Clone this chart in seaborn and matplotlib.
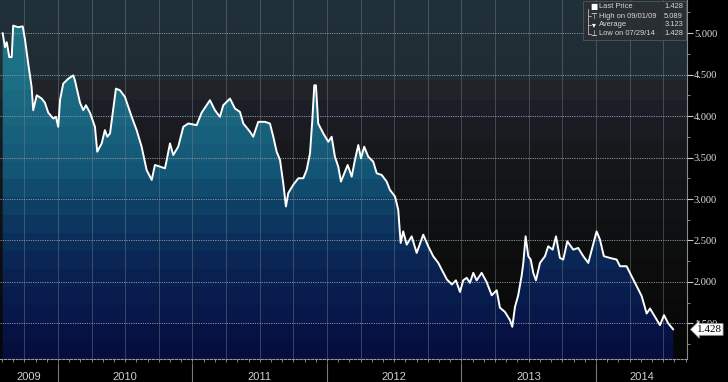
import numpy as np
import pandas as pd
import matplotlib
matplotlib.use("Agg")
import matplotlib.pyplot as plt
import seaborn as sns
from matplotlib.colors import LinearSegmentedColormap
from matplotlib.patches import PathPatch, Rectangle
from matplotlib.lines import Line2D
from matplotlib.ticker import MultipleLocator, FuncFormatter, NullFormatter

# datos (fecha en anos decimales, precio)
t = [2009.589, 2009.606, 2009.619, 2009.638, 2009.656, 2009.667, 2009.705, 2009.738,
     2009.755, 2009.779, 2009.804, 2009.816, 2009.842, 2009.879, 2009.903, 2009.928,
     2009.965, 2009.985, 2010.002, 2010.015, 2010.039, 2010.077, 2010.114, 2010.126,
     2010.164, 2010.188, 2010.208, 2010.238, 2010.275, 2010.292, 2010.325, 2010.349,
     2010.367, 2010.387, 2010.407, 2010.431, 2010.461, 2010.498, 2010.523, 2010.548,
     2010.585, 2010.622, 2010.659, 2010.697, 2010.721, 2010.758, 2010.796, 2010.833,
     2010.857, 2010.894, 2010.932, 2010.969, 2011.031, 2011.068, 2011.130, 2011.167,
     2011.204, 2011.229, 2011.279, 2011.316, 2011.353, 2011.378, 2011.428, 2011.452,
     2011.489, 2011.539, 2011.576, 2011.601, 2011.626, 2011.651, 2011.675, 2011.695,
     2011.712, 2011.749, 2011.787, 2011.824, 2011.849, 2011.874, 2011.891, 2011.906,
     2011.918, 2011.935, 2011.973, 2012.010, 2012.035, 2012.059, 2012.084, 2012.104,
     2012.129, 2012.154, 2012.184, 2012.208, 2012.233, 2012.253, 2012.277, 2012.307,
     2012.344, 2012.370, 2012.407, 2012.444, 2012.468, 2012.506, 2012.530, 2012.548,
     2012.567, 2012.593, 2012.630, 2012.667, 2012.716, 2012.753, 2012.790, 2012.828,
     2012.853, 2012.892, 2012.929, 2012.959, 2012.989, 2013.013, 2013.039, 2013.063,
     2013.088, 2013.113, 2013.150, 2013.187, 2013.225, 2013.262, 2013.286, 2013.323,
     2013.361, 2013.378, 2013.398, 2013.422, 2013.448, 2013.460, 2013.477, 2013.497,
     2013.515, 2013.534, 2013.554, 2013.584, 2013.621, 2013.645, 2013.678, 2013.703,
     2013.732, 2013.757, 2013.787, 2013.831, 2013.868, 2013.906, 2013.943, 2013.976,
     2014.005, 2014.030, 2014.059, 2014.104, 2014.154, 2014.179, 2014.228, 2014.265,
     2014.303, 2014.340, 2014.377, 2014.402, 2014.439, 2014.476, 2014.506, 2014.538,
     2014.575]
price = [5.00, 4.83, 4.89, 4.71, 4.71, 5.089, 5.07, 5.08,
         4.92, 4.63, 4.35, 4.07, 4.25, 4.21, 4.16, 4.04,
         3.97, 3.99, 3.87, 4.19, 4.39, 4.45, 4.49, 4.43,
         4.16, 4.07, 4.13, 4.04, 3.87, 3.57, 3.67, 3.83,
         3.75, 3.79, 4.04, 4.33, 4.31, 4.23, 4.11, 3.99,
         3.83, 3.63, 3.35, 3.23, 3.41, 3.39, 3.37, 3.67,
         3.53, 3.63, 3.87, 3.91, 3.89, 4.04, 4.19, 4.07,
         3.99, 4.13, 4.21, 4.09, 4.05, 3.91, 3.81, 3.75,
         3.93, 3.93, 3.91, 3.75, 3.57, 3.47, 3.19, 2.91,
         3.07, 3.17, 3.25, 3.25, 3.35, 3.55, 3.95, 4.37,
         4.37, 3.91, 3.79, 3.69, 3.75, 3.51, 3.39, 3.21,
         3.31, 3.41, 3.27, 3.47, 3.65, 3.49, 3.63, 3.51,
         3.45, 3.31, 3.29, 3.21, 3.11, 3.03, 2.87, 2.47,
         2.61, 2.45, 2.55, 2.35, 2.57, 2.43, 2.31, 2.23,
         2.15, 2.03, 1.97, 2.02, 1.88, 2.02, 2.05, 1.99,
         2.11, 2.02, 2.11, 2.00, 1.84, 1.90, 1.69, 1.64,
         1.54, 1.46, 1.70, 1.84, 2.08, 2.23, 2.55, 2.31,
         2.27, 2.11, 2.02, 2.23, 2.31, 2.43, 2.39, 2.55,
         2.29, 2.27, 2.49, 2.39, 2.41, 2.31, 2.23, 2.43,
         2.61, 2.51, 2.31, 2.29, 2.27, 2.19, 2.19, 2.07,
         1.95, 1.83, 1.62, 1.68, 1.58, 1.48, 1.60, 1.50,
         1.428]
years = [2009, 2010, 2011, 2012, 2013, 2014]
avg_price = 3.123
high_date = "09/01/09"
low_date = "07/29/14"

df = pd.DataFrame({"t": t, "price": price})

sns.set_theme(style="dark")
plt.rcParams["font.family"] = ["Liberation Serif", "DejaVu Serif"]

W, H = 728, 382
fig = plt.figure(figsize=(W / 100, H / 100), dpi=100, facecolor="black")
ax = fig.add_axes([0, 23 / H, 687 / W, 359 / H])
x0, x1 = 2009.569, 2014.677
y0, y1 = 1.072, 5.398
ax.set_xlim(x0, x1)
ax.set_ylim(y0, y1)
ax.set_facecolor("black")

# fondo con degradado en bandas
bg_cmap = LinearSegmentedColormap.from_list("bg", [
    (0.0, "#203039"), (0.19, "#1f2c34"), (0.21, "#23282b"), (0.28, "#1c1f28"),
    (0.40, "#18191d"), (0.56, "#131415"), (0.72, "#0d0e0e"), (0.9, "#090909"),
    (1.0, "#060606")], N=18)
grad = np.linspace(0, 1, 400).reshape(-1, 1)
ax.imshow(grad, cmap=bg_cmap, extent=[x0, x1, y0, y1], aspect="auto",
          origin="upper", zorder=0, interpolation="nearest")

# relleno bajo la curva
fill_cmap = LinearSegmentedColormap.from_list("fill", [
    (0.0, "#1f7689"), (0.2, "#1c6f84"), (0.33, "#19647f"), (0.47, "#145676"),
    (0.56, "#0f4368"), (0.67, "#0b305c"), (0.78, "#0a2152"), (0.9, "#07174a"),
    (1.0, "#050e3d")], N=20)
fill = ax.fill_between(df["t"], df["price"], y0, color="none", lw=0)
clip = PathPatch(fill.get_paths()[0], transform=ax.transData, fc="none", ec="none")
ax.add_patch(clip)
im = ax.imshow(grad, cmap=fill_cmap, extent=[x0, x1, y0, y1], aspect="auto",
               origin="upper", zorder=1, interpolation="nearest")
im.set_clip_path(clip)

sns.lineplot(data=df, x="t", y="price", color="white", lw=1.4, ax=ax,
             zorder=4, sort=False, legend=False)
ax.set_xlabel("")
ax.set_ylabel("")

# ejes y rejilla
ax.set_axisbelow(False)
ax.xaxis.set_major_locator(MultipleLocator(0.25))
ax.xaxis.set_minor_locator(MultipleLocator(1 / 12))
ax.xaxis.set_major_formatter(NullFormatter())
ax.yaxis.set_major_locator(MultipleLocator(0.5))
ax.yaxis.set_minor_locator(MultipleLocator(0.25))
ax.yaxis.set_major_formatter(FuncFormatter(lambda v, p: f"{v:.3f}"))
ax.yaxis.tick_right()
ax.grid(True, which="major", axis="y", color="#8c9297", lw=0.7, ls=(0, (1.2, 1.2)))
ax.grid(True, which="major", axis="x", color="#7e868c", lw=0.6, ls=(0, (1.2, 1.2)))
ax.tick_params(axis="y", which="major", right=True, length=4, width=0.8,
               color="#c8c8c8", labelcolor="#e0e0e0", labelsize=7.5, pad=1)
ax.tick_params(axis="y", which="minor", right=True, length=2, width=0.6, color="#9a9a9a")
ax.tick_params(axis="x", which="both", bottom=True, length=2, width=0.6,
               color="#9a9a9a", direction="out")
for s in ["top", "left"]:
    ax.spines[s].set_visible(False)
ax.spines["right"].set_color("#8a8a8a")
ax.spines["right"].set_linewidth(0.8)
ax.spines["bottom"].set_color("#9a9a9a")
ax.spines["bottom"].set_linewidth(0.8)
ax.spines["bottom"].set_linestyle((0, (2, 1.5)))

# etiquetas de los anos y separadores
trans = ax.get_xaxis_transform()
for y in years:
    lo, hi = max(y, x0), min(y + 1, x1)
    ax.text((lo + hi) / 2, -0.05, str(y), transform=trans, ha="center", va="center",
            color="#cfcfcf", fontsize=8, family=["Liberation Sans Narrow", "Liberation Sans"],
            clip_on=False)
    if y > x0:
        ax.plot([y, y], [-0.01, -0.07], transform=trans, color="#777777", lw=0.8,
                clip_on=False)

# etiqueta del ultimo precio
last = df["price"].iloc[-1]
ax.annotate(f"{last:.3f}", xy=(1, last), xycoords=("axes fraction", "data"),
            xytext=(7, 0), textcoords="offset points", ha="left", va="center",
            fontsize=8, color="black", zorder=6, annotation_clip=False,
            bbox=dict(boxstyle="larrow,pad=0.12", fc="white", ec="#999999", lw=0.6))

# leyenda estilo terminal
fig.add_artist(Rectangle((583 / W, 1 - 40 / H), 103 / W, 39 / H, transform=fig.transFigure,
                         fc="#2a2f33", ec="#555a5e", lw=0.6, alpha=0.92, zorder=10))
rows = [("Last Price", last), (f"High on {high_date}", df["price"].max()),
        ("Average", avg_price), (f"Low on {low_date}", df["price"].min())]
row_y = [7, 16, 24.5, 33.5]
fig.add_artist(Line2D([588 / W, 588 / W], [1 - 9 / H, 1 - 34 / H], transform=fig.transFigure,
                      color="#bbbbbb", lw=0.6, zorder=11))
symbols = ["■", "⊤", "▾", "⊥"]
for (lab, val), ry, sym in zip(rows, row_y, symbols):
    yy = 1 - ry / H
    if ry > 8:
        fig.add_artist(Line2D([588 / W, 591 / W], [yy, yy], transform=fig.transFigure,
                              color="#bbbbbb", lw=0.6, zorder=11))
    fig.text(594 / W, yy, sym, ha="center", va="center", fontsize=5.5, color="white",
             family="DejaVu Sans", zorder=12)
    fig.text(599 / W, yy, lab, ha="left", va="center", fontsize=5.4, color="#d8d8d8",
             family="Liberation Sans", zorder=12)
    fig.text(683 / W, yy, f"{val:.3f}", ha="right", va="center", fontsize=5.4,
             color="#d8d8d8", family="Liberation Sans", zorder=12)

fig.savefig("out.png", dpi=100, facecolor="black")
